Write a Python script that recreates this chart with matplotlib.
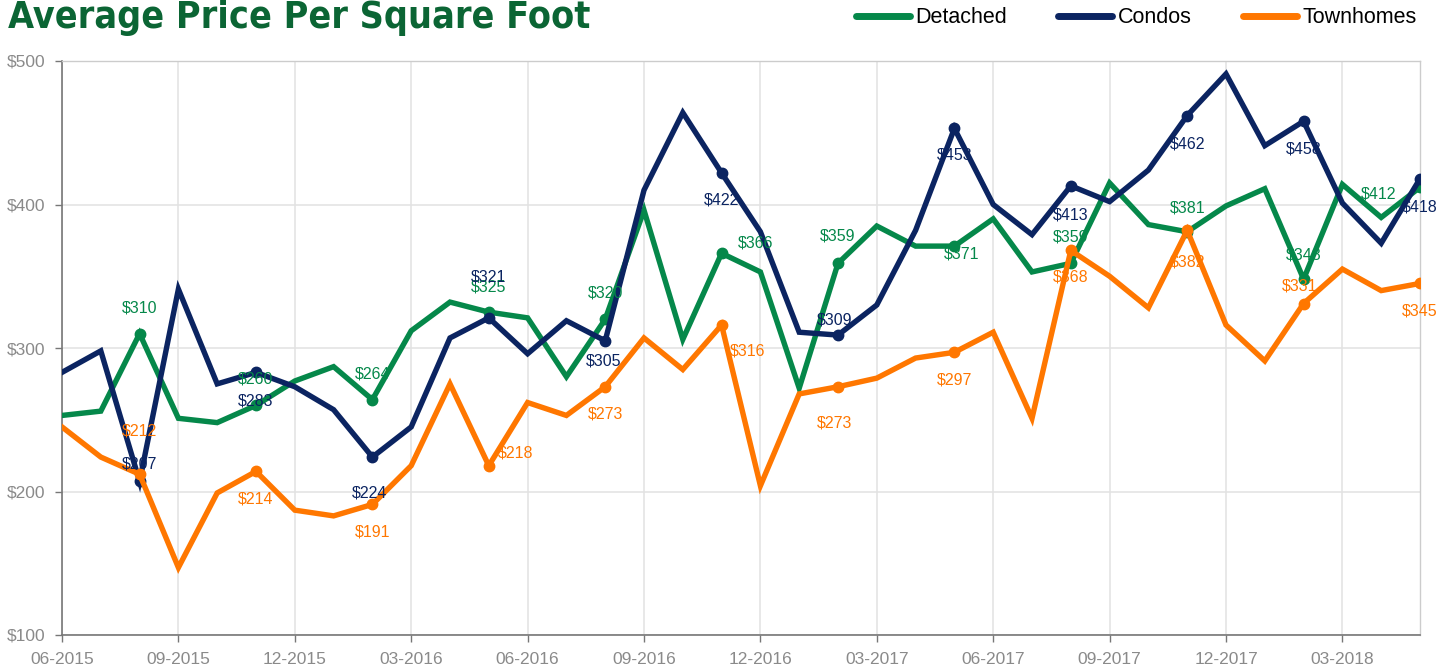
import numpy as np
import matplotlib
matplotlib.use("Agg")
import matplotlib.pyplot as plt
from matplotlib.lines import Line2D

# ------ Data ------
tick_labels = ["06-2015", "09-2015", "12-2015", "03-2016", "06-2016", "09-2016",
               "12-2016", "03-2017", "06-2017", "09-2017", "12-2017", "03-2018"]

detached = [253, 256, 310, 251, 248, 260, 277, 287, 264, 312, 332, 325,
            321, 280, 320, 396, 306, 366, 353, 272, 359, 385, 371, 371,
            390, 353, 359, 415, 386, 381, 399, 411, 348, 414, 391, 412]
condos = [283, 298, 207, 341, 275, 283, 273, 257, 224, 245, 307, 321,
          296, 319, 305, 410, 464, 422, 381, 311, 309, 330, 382, 453,
          400, 379, 413, 402, 424, 462, 491, 441, 458, 401, 373, 418]
townhomes = [245, 224, 212, 147, 199, 214, 187, 183, 191, 218, 275, 218,
             262, 253, 273, 307, 285, 316, 204, 268, 273, 279, 293, 297,
             311, 251, 368, 350, 328, 382, 316, 291, 331, 355, 340, 345]

# ------ Style ------
GREEN = "#05884a"
NAVY = "#0b2461"
ORANGE = "#ff7700"
GRID = "#e2e2e2"
TICK = "#8a8a8a"
SANS = ["Liberation Sans", "DejaVu Sans"]

# label offsets in pixels (dx, dy screen-down) for every 3rd month from index 2
green_off = [(0, -26), (0, -26), (0, -26), (0, -25), (0, -26), (34, -10),
             (0, -27), (7, 8), (0, -26), (0, -24), (0, -24), (-41, 7)]
navy_off = [(0, -17), (0, 29), (-3, 36), (0, -41), (-2, 20), (0, 27),
            (-3, -15), (0, 27), (0, 29), (0, 28), (0, 28), (0, 28)]
orange_off = [(0, -43), (0, 28), (0, 28), (27, -13), (0, 27), (26, 26),
              (-3, 36), (0, 28), (0, 27), (0, 32), (-4, -18), (0, 28)]

W, H = 1448, 667
fig = plt.figure(figsize=(W / 100, H / 100), dpi=100)
ax = fig.add_axes([62 / W, (H - 635) / H, (1420 - 62) / W, (635 - 61) / H])

x = np.arange(len(detached))
label_idx = list(range(2, len(x), 3))

series = [("Detached", detached, GREEN, green_off),
          ("Condos", condos, NAVY, navy_off),
          ("Townhomes", townhomes, ORANGE, orange_off)]

for name, vals, col, offs in series:
    ax.plot(x, vals, color=col, lw=3.9, solid_joinstyle="miter",
            marker="o", markersize=7.5, markevery=label_idx, zorder=3)

for name, vals, col, offs in series:
    for i, (dx, dy) in zip(label_idx, offs):
        ax.annotate(f"${vals[i]}", (x[i], vals[i]), xytext=(dx, -dy),
                    textcoords="offset pixels", ha="center", va="center",
                    color=col, fontsize=11.5, family=SANS, zorder=4)

ax.set_xlim(0, len(x) - 1)
ax.set_ylim(100, 500)
ax.set_xticks(x[::3])
ax.set_xticklabels(tick_labels)
ax.set_yticks([100, 200, 300, 400, 500])
ax.set_yticklabels([f"${v}" for v in [100, 200, 300, 400, 500]])

ax.grid(True, color=GRID, lw=1.1, zorder=0)
ax.set_axisbelow(True)
for s in ["top", "right"]:
    ax.spines[s].set_color("#cccccc")
    ax.spines[s].set_linewidth(1)
for s in ["left", "bottom"]:
    ax.spines[s].set_color("#777777")
    ax.spines[s].set_linewidth(1.2)
ax.tick_params(axis="both", colors="#777777", length=5, width=1,
               labelcolor=TICK, labelsize=12.5)
ax.tick_params(axis="x", pad=7)
ax.tick_params(axis="y", pad=7)
for t in ax.get_xticklabels() + ax.get_yticklabels():
    t.set_family(SANS)

fig.text(8 / W, 1 - 28 / H, "Average Price Per Square Foot", color="#0b6534",
         fontsize=27, fontweight="bold", va="baseline", ha="left",
         family=["Liberation Sans Narrow", "DejaVu Sans"], fontstretch="condensed")

handles = [Line2D([], [], color=c, lw=5, solid_capstyle="round") for _, _, c, _ in series]
fig.legend(handles, [s[0] for s in series], loc="upper right",
           bbox_to_anchor=(1436 / W, 1 + 12 / H), ncol=3, frameon=False,
           handlelength=2.5, handletextpad=0.25, columnspacing=2.4,
           prop={"family": SANS, "size": 15.5})

fig.savefig("out.png", dpi=100)
